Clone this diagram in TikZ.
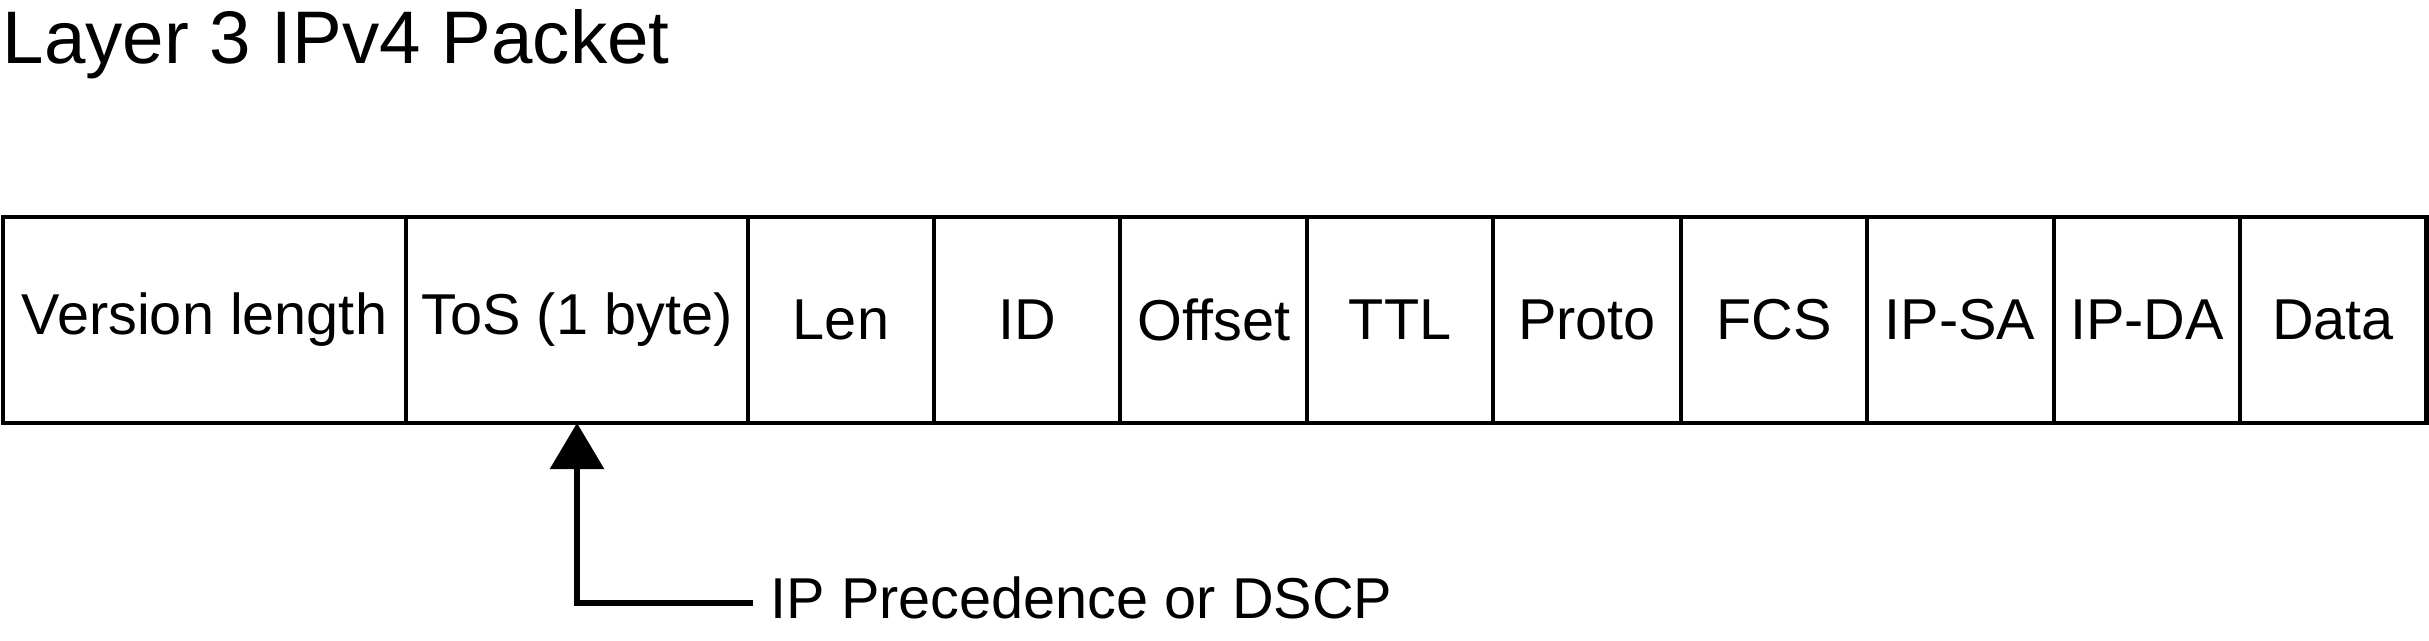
\documentclass[tikz,border=0pt]{standalone}
\usepackage{fontspec}
\setmainfont{Liberation Sans}
\usepackage{tikz}
\usetikzlibrary{arrows.meta, positioning}
\tikzstyle{every node}=[font=\fontsize{16.4}{20}\selectfont]
\tikzset{FieldStyle/.style = {
			      shape          = rectangle,
			      draw           = black,
			      line width     = 1.1pt,
			      text           = black,
			      inner sep      = 0pt,
			      outer sep      = 0pt,
			      minimum height = 2.06cm}
			}
\tikzset{PointerStyle/.style = {
			      line width     = 1.7pt,
			      -{Triangle[length=0.46cm, width=0.53cm]}}
			}

\begin{document}
\begin{tikzpicture}
		\useasboundingbox (0,0) rectangle (24.29,6.40);

		\draw (0.02,5.77) node[anchor=base west, inner sep=0pt, font=\fontsize{21.2}{25}\selectfont] (title) {Layer 3 IPv4 Packet};

		\draw (2.045,3.20) node[FieldStyle, minimum width=4.03cm] (ver)   { Version length };
		\draw (5.770,3.20) node[FieldStyle, minimum width=3.42cm] (tos)   { ToS (1 byte) };
		\draw (8.410,3.20) node[FieldStyle, minimum width=1.86cm] (len)   { Len };
		\draw (10.27,3.20) node[FieldStyle, minimum width=1.86cm] (id)    { ID };
		\draw (12.14,3.20) node[FieldStyle, minimum width=1.87cm] (off)   { Offset };
		\draw (14.00,3.20) node[FieldStyle, minimum width=1.86cm] (ttl)   { TTL };
		\draw (15.87,3.20) node[FieldStyle, minimum width=1.87cm] (proto) { Proto };
		\draw (17.74,3.20) node[FieldStyle, minimum width=1.86cm] (fcs)   { FCS };
		\draw (19.60,3.20) node[FieldStyle, minimum width=1.87cm] (sa)    { IP-SA };
		\draw (21.47,3.20) node[FieldStyle, minimum width=1.86cm] (da)    { IP-DA };
		\draw (23.33,3.20) node[FieldStyle, minimum width=1.86cm] (data)  { Data };

		\draw[line width=1.4pt] (ver.north west) rectangle (data.south east);

		\draw (7.53,0.22) node[anchor=base west, inner xsep=0.17cm, inner ysep=0pt] (dscp) { IP Precedence or DSCP };

		\draw[PointerStyle] ([yshift=0.15cm]dscp.base west) -| (tos.south);

\end{tikzpicture}
\end{document}
